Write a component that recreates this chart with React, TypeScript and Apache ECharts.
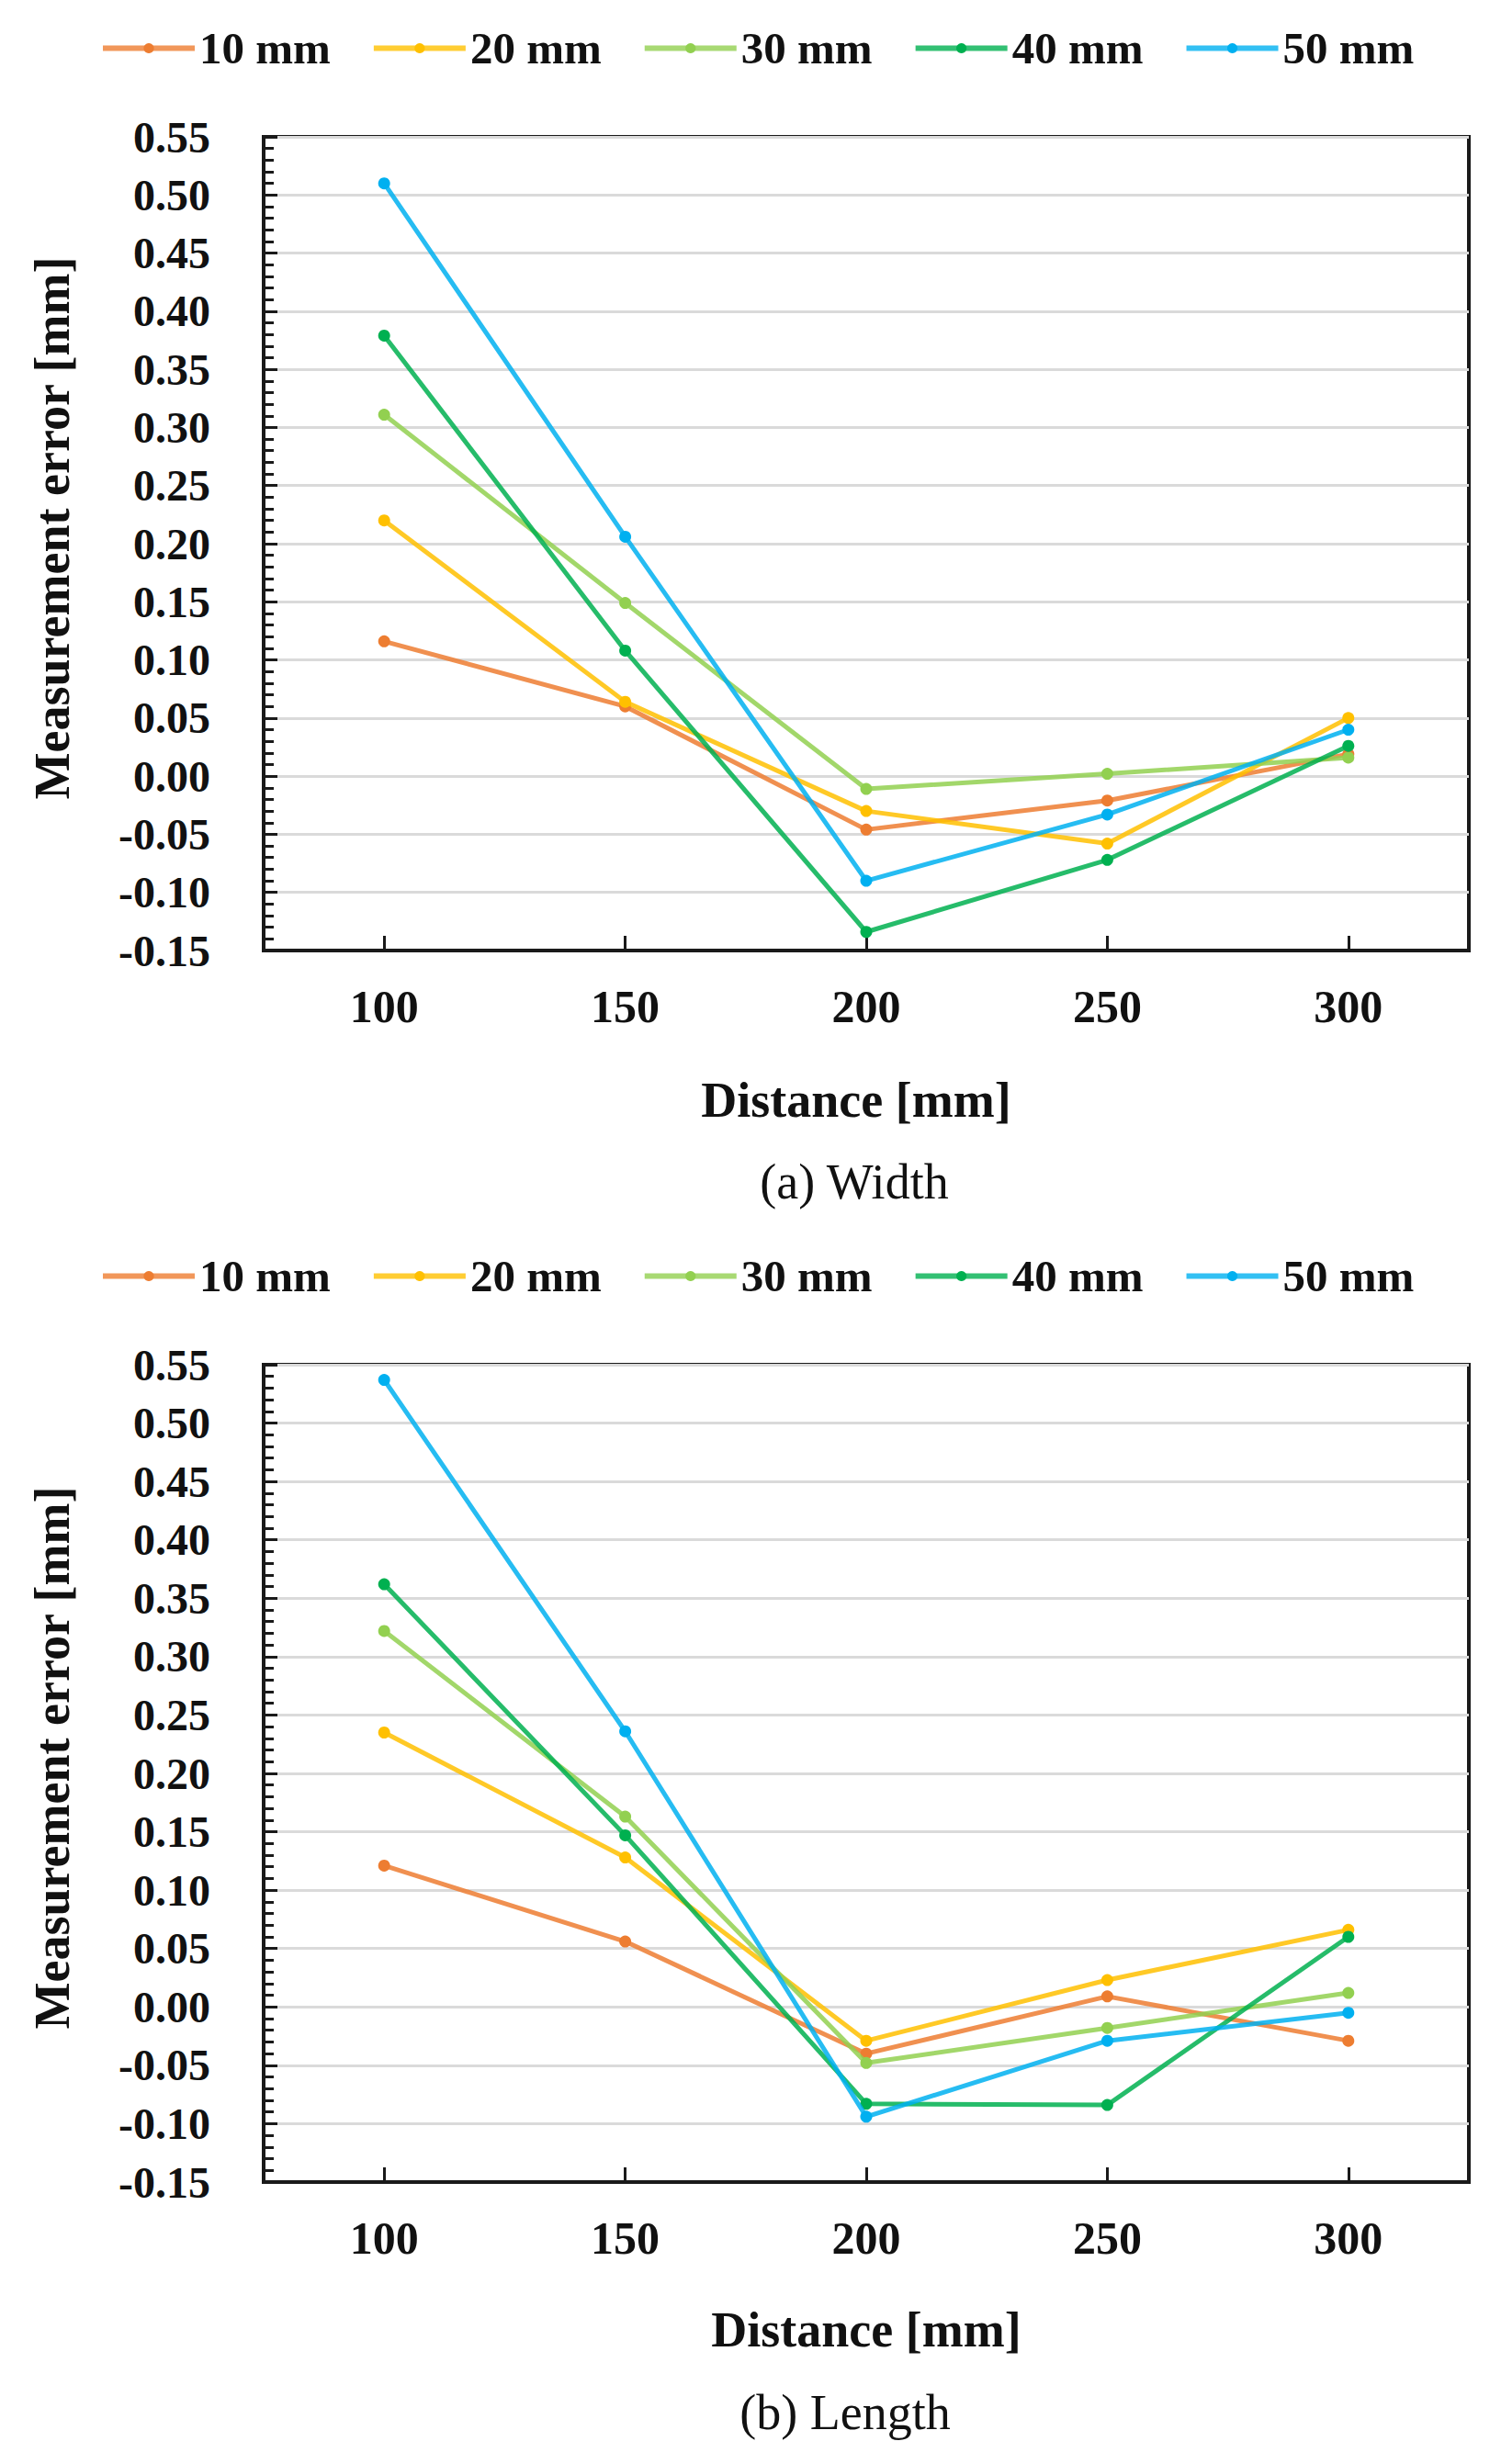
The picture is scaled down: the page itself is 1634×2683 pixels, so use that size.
import React, { useEffect, useRef } from "react";
import * as echarts from "echarts";

const categories = ["100", "150", "200", "250", "300"];
const seriesNames = ["10 mm", "20 mm", "30 mm", "40 mm", "50 mm"];
const colors = ["#ED7D31", "#FFC000", "#92D050", "#00B050", "#00B0F0"];

// (a) Width
const width10 = [0.116, 0.060, -0.046, -0.021, 0.019];
const width20 = [0.220, 0.064, -0.030, -0.058, 0.050];
const width30 = [0.311, 0.149, -0.011, 0.002, 0.016];
const width40 = [0.379, 0.108, -0.134, -0.072, 0.026];
const width50 = [0.510, 0.206, -0.090, -0.033, 0.040];

// (b) Length
const length10 = [0.121, 0.056, -0.040, 0.009, -0.029];
const length20 = [0.235, 0.128, -0.029, 0.023, 0.066];
const length30 = [0.322, 0.163, -0.048, -0.018, 0.012];
const length40 = [0.362, 0.147, -0.083, -0.084, 0.060];
const length50 = [0.537, 0.236, -0.094, -0.029, -0.005];

const widthData = [width10, width20, width30, width40, width50];
const lengthData = [length10, length20, length30, length40, length50];

const yMin = -0.15;
const yMax = 0.55;
const yStep = 0.05;

const FONT = "'Liberation Serif', 'Times New Roman', serif";

export default function App() {
  const ref = useRef<HTMLDivElement>(null);

  useEffect(() => {
    if (!ref.current) return;
    const chart = echarts.init(ref.current, null, { renderer: "svg" });

    const PL = 287;
    const PW = 1312;
    const grids = [
      { top: 149, height: 886 },
      { top: 1486, height: 890 },
    ];

    const xAxis = grids.map((_, i) => ({
      type: "category",
      gridIndex: i,
      data: categories,
      boundaryGap: true,
      axisLine: { show: true, onZero: false, lineStyle: { color: "#1a1a1a", width: 4 } },
      axisTick: {
        show: true,
        inside: true,
        alignWithLabel: true,
        length: 16,
        lineStyle: { color: "#1a1a1a", width: 3 },
      },
      axisLabel: {
        margin: 36,
        fontFamily: FONT,
        fontWeight: "bold",
        fontSize: 50,
        color: "#111",
      },
      splitLine: { show: false },
    }));

    const yAxis = grids.map((_, i) => ({
      type: "value",
      gridIndex: i,
      min: yMin,
      max: yMax,
      interval: yStep,
      axisLine: { show: true, onZero: false, lineStyle: { color: "#1a1a1a", width: 4 } },
      axisTick: {
        show: true,
        inside: true,
        length: 15,
        lineStyle: { color: "#1a1a1a", width: 3 },
      },
      minorTick: {
        show: true,
        splitNumber: 5,
        length: 11,
        lineStyle: { color: "#1a1a1a", width: 3 },
      },
      axisLabel: {
        margin: 58,
        fontFamily: FONT,
        fontWeight: "bold",
        fontSize: 48,
        color: "#111",
        formatter: (v: number) => v.toFixed(2),
      },
      splitLine: { show: true, lineStyle: { color: "#DADADA", width: 3 } },
    }));

    const series: any[] = [];
    [widthData, lengthData].forEach((set, gi) => {
      set.forEach((vals, si) => {
        series.push({
          name: seriesNames[si],
          type: "line",
          xAxisIndex: gi,
          yAxisIndex: gi,
          data: vals,
          symbol: "circle",
          symbolSize: 13,
          lineStyle: { color: colors[si], width: 5, opacity: 0.85 },
          itemStyle: { color: colors[si] },
          z: 3 + si,
        });
      });
    });

    const legendBase = {
      left: 109,
      itemWidth: 100,
      itemHeight: 14,
      itemGap: 44,
      height: 50,
      padding: 0,
      data: seriesNames,
      lineStyle: { width: 6, opacity: 0.8 },
      textStyle: {
        fontFamily: FONT,
        fontWeight: "bold",
        fontSize: 49,
        color: "#111",
      },
    };

    const titleText = (x: number, y: number, text: string, bold: boolean, rot = 0) => ({
      type: "text",
      x,
      y,
      rotation: rot,
      style: {
        text,
        font: `${bold ? "bold " : ""}54px ${FONT}`,
        fill: "#111",
        textAlign: "center",
        textVerticalAlign: "middle",
      },
    });

    chart.setOption({
      animation: false,
      backgroundColor: "#ffffff",
      legend: [
        { ...legendBase, top: 28 },
        { ...legendBase, top: 1365 },
      ],
      grid: grids.map((g) => ({
        left: PL,
        width: PW,
        top: g.top,
        height: g.height,
        show: true,
        borderColor: "#1a1a1a",
        borderWidth: 4,
        backgroundColor: "transparent",
        containLabel: false,
      })),
      xAxis,
      yAxis,
      series,
      graphic: [
        titleText(57, 575, "Measurement error [mm]", true, Math.PI / 2),
        titleText(57, 1914, "Measurement error [mm]", true, Math.PI / 2),
        titleText(932, 1198, "Distance [mm]", true),
        titleText(943, 2537, "Distance [mm]", true),
        titleText(930, 1287, "(a) Width", false),
        titleText(920, 2627, "(b) Length", false),
      ],
    });

    return () => chart.dispose();
  }, []);

  return (
    <div
      ref={ref}
      style={{ position: "absolute", left: 0, top: 0, width: 1634, height: 2683, background: "#fff" }}
    />
  );
}
